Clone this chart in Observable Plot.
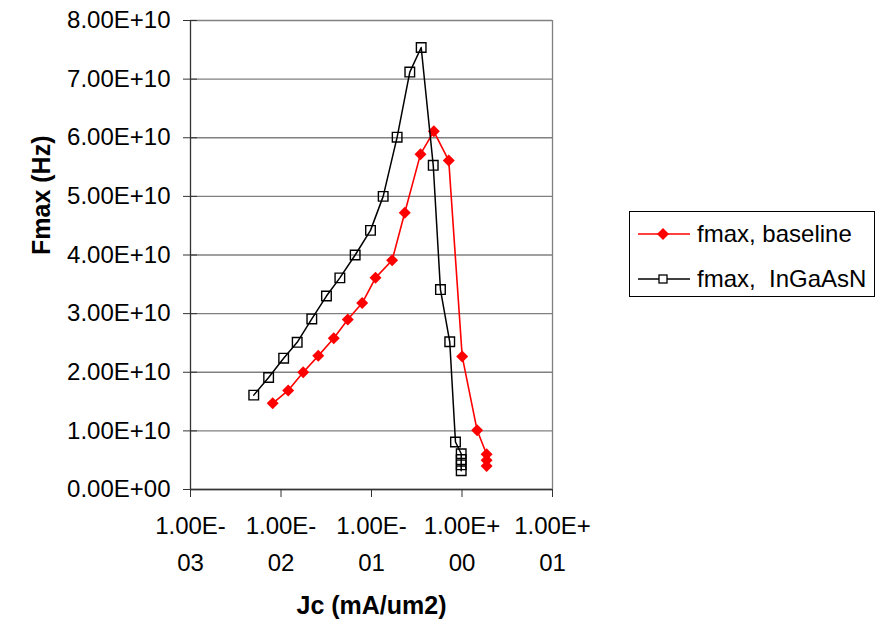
<!DOCTYPE html>
<html>
<head>
<meta charset="utf-8">
<script src="https://cdn.jsdelivr.net/npm/d3@7"></script>
<script src="https://cdn.jsdelivr.net/npm/@observablehq/plot@0.6"></script>
<style>
  html, body { margin: 0; padding: 0; background: #fff; }
  #wrap { position: relative; width: 882px; height: 632px; font-family: "Liberation Sans", Arial, sans-serif; }
  #legend { position: absolute; left: 629px; top: 211px; width: 244px; height: 84px; border: 1px solid #000; background: #fff; }
  #legend .row { position: absolute; left: 8px; height: 30px; display: flex; align-items: center; font-size: 24px; color: #000; white-space: pre; }
  #legend svg { margin-right: 7px; }
</style>
</head>
<body>
<div id="wrap"><div id="chart"></div>
  <div id="legend">
    <div class="row" style="top: 7px">
      <svg width="52" height="20"><line x1="0" y1="10" x2="52" y2="10" stroke="#ff0000" stroke-width="1.6"/><path d="M25,4 L31,10 L25,16 L19,10 Z" fill="#ff0000"/></svg><span>fmax, baseline</span>
    </div>
    <div class="row" style="top: 52px">
      <svg width="52" height="20"><line x1="0" y1="10" x2="52" y2="10" stroke="#000" stroke-width="1.5"/><rect x="21" y="6" width="8" height="8" fill="#fff" stroke="#000" stroke-width="1.3"/></svg><span>fmax,  InGaAsN</span>
    </div>
  </div>
</div>
<script>
// Collector current density Jc (mA/um2) and fmax (Hz), baseline device
const jcBaseline = [0.0081, 0.0120, 0.0176, 0.0258, 0.0383, 0.0547, 0.0789, 0.1107, 0.169, 0.233, 0.348, 0.488, 0.714, 1.005, 1.47, 1.87, 1.87, 1.87];
const fmaxBaseline = [1.47e10, 1.69e10, 2.0e10, 2.28e10, 2.58e10, 2.9e10, 3.18e10, 3.61e10, 3.91e10, 4.72e10, 5.72e10, 6.11e10, 5.61e10, 2.27e10, 1.01e10, 6.0e9, 5.0e9, 4.0e9];

// InGaAsN device
const jcInGaAsN = [0.0050, 0.0073, 0.0107, 0.0151, 0.0219, 0.0318, 0.0447, 0.066, 0.0975, 0.1346, 0.192, 0.265, 0.354, 0.481, 0.578, 0.732, 0.847, 0.98, 0.98, 0.98, 0.98];
const fmaxInGaAsN = [1.61e10, 1.91e10, 2.24e10, 2.51e10, 2.91e10, 3.3e10, 3.61e10, 4.0e10, 4.42e10, 5.0e10, 6.01e10, 7.12e10, 7.54e10, 5.53e10, 3.41e10, 2.52e10, 0.81e10, 6.1e9, 5.1e9, 4.2e9, 3.2e9];

const xTicks = [1e-3, 1e-2, 1e-1, 1e0, 1e1];
const yTicks = [0, 1e10, 2e10, 3e10, 4e10, 5e10, 6e10, 7e10, 8e10];

// Spreadsheet-style scientific notation: 1.00E+10, 1.00E-03
function sci(v) {
  if (v === 0) return {mant: "0.00E+", exp: "00"};
  const e = Math.floor(Math.log10(Math.abs(v)) + 1e-9);
  const m = v / Math.pow(10, e);
  const sign = e < 0 ? "-" : "+";
  return {mant: m.toFixed(2) + "E" + sign, exp: String(Math.abs(e)).padStart(2, "0")};
}
const fmtY = v => { const s = sci(v); return s.mant + s.exp; };
const fmtX = v => { const s = sci(v); return s.mant + "\n" + s.exp; };

const baseline = jcBaseline.map((jc, i) => ({jc, f: fmaxBaseline[i]}));
const ingaasn = jcInGaAsN.map((jc, i) => ({jc, f: fmaxInGaAsN[i]}));

const chart = Plot.plot({
  width: 882,
  height: 632,
  marginLeft: 190,
  marginRight: 330,
  marginTop: 20,
  marginBottom: 143,
  x: {type: "log", domain: [1e-3, 10]},
  y: {domain: [0, 8e10]},
  style: {fontFamily: "'Liberation Sans', Arial, sans-serif", fontSize: "24px", color: "#000", background: "#fff"},
  marks: [
    Plot.gridY(yTicks, {stroke: "#808080", strokeOpacity: 1, strokeWidth: 1.3}),
    Plot.ruleX([10], {stroke: "#808080", strokeWidth: 1.3}),
    Plot.ruleX([1e-3], {stroke: "#333", strokeWidth: 1.3}),
    Plot.ruleY([0], {stroke: "#333", strokeWidth: 1.3}),
    Plot.axisY({ticks: yTicks, tickSize: 7, tickPadding: 13, tickFormat: fmtY, label: null, stroke: "#333"}),
    Plot.axisY({ticks: yTicks, tickSize: 7, dx: 7, tickFormat: () => "", label: null, stroke: "#333"}),
    Plot.axisX({ticks: xTicks, tickSize: 8, tickPadding: 10, tickFormat: fmtX, lineHeight: 1.55, label: null, stroke: "#333"}),
    Plot.text(["Fmax (Hz)"], {frameAnchor: "left", rotate: -90, dx: -149, fontWeight: "bold", fontSize: 25}),
    Plot.text(["Jc (mA/um2)"], {frameAnchor: "bottom", dy: 124, fontWeight: "bold", fontSize: 25}),
    Plot.line(baseline, {x: "jc", y: "f", stroke: "#ff0000", strokeWidth: 1.6}),
    Plot.dot(baseline, {x: "jc", y: "f", symbol: "diamond2", r: 5.4, fill: "#ff0000", stroke: "none"}),
    Plot.line(ingaasn, {x: "jc", y: "f", stroke: "#000", strokeWidth: 1.5}),
    Plot.dot(ingaasn, {x: "jc", y: "f", symbol: "square", r: 5.4, fill: "none", stroke: "#000", strokeWidth: 1.4})
  ]
});
document.getElementById("chart").appendChild(chart);
</script>
</body>
</html>
